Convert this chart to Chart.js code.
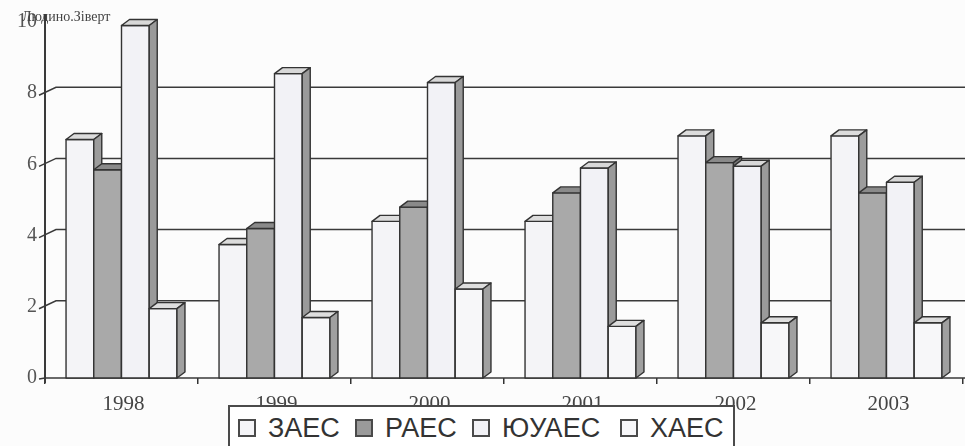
<!DOCTYPE html>
<html lang="uk">
<head>
    <meta charset="UTF-8">
    <title>Колективні дози АЕС України</title>
    <style>
        body, html {
            margin: 0;
            padding: 0;
            background-color: #fcfcfc;
        }
        .wrap {
            position: relative;
            width: 965px;
            height: 446px;
            overflow: hidden;
        }
        .legend {
            position: absolute;
            left: 228px;
            top: 405px;
            width: 503px;
            height: 60px;
            border: 2px solid #4a4a4a;
            background: #fff;
            font-family: "Liberation Sans", Arial, sans-serif;
            font-size: 27px;
            color: #333;
        }
        .item {
            position: absolute;
            top: 6px;
            display: flex;
            align-items: center;
            gap: 12px;
            line-height: 30px;
        }
        .swatch {
            width: 14px;
            height: 14px;
            border: 2px solid #4a4a4a;
        }
    </style>
</head>
<body>
<div class="wrap">
    <canvas id="doseChart" width="965" height="446"></canvas>
    <div class="legend" id="legend"></div>
</div>

<script src="https://cdn.jsdelivr.net/npm/chart.js"></script>
<script>
    const years = ['1998', '1999', '2000', '2001', '2002', '2003'];
    const stations = ['ЗАЕС', 'РАЕС', 'ЮУАЕС', 'ХАЕС'];
    const zaes = [6.7, 3.75, 4.4, 4.4, 6.8, 6.8];
    const raes = [5.85, 4.2, 4.8, 5.2, 6.05, 5.2];
    const yuaes = [9.9, 8.55, 8.3, 5.9, 5.95, 5.5];
    const khaes = [1.95, 1.7, 2.5, 1.45, 1.55, 1.55];
    const gridValues = [2, 4, 6, 8];
    const unitLabel = 'Людино.Зіверт';

    // front / top / side shades for each station
    const fronts = ['#f4f4f7', '#a9a9a9', '#f2f2f6', '#f7f7f9'];
    const tops = ['#dcdcdc', '#8a8a8a', '#d8d8d8', '#dedede'];
    const sides = ['#9c9c9c', '#7c7c7c', '#9a9a9a', '#a0a0a0'];
    const legendLeft = [8, 125, 242, 390];

    const DX = 8, DY = 6;
    const INK = '#333';

    // legend (sits over the x labels, like the printed one)
    const legend = document.getElementById('legend');
    stations.forEach((name, i) => {
        const item = document.createElement('div');
        item.className = 'item';
        item.style.left = legendLeft[i] + 'px';
        const sw = document.createElement('span');
        sw.className = 'swatch';
        sw.style.background = i === 1 ? '#9a9a9a' : fronts[i];
        const txt = document.createElement('span');
        txt.textContent = name;
        item.appendChild(sw);
        item.appendChild(txt);
        legend.appendChild(item);
    });

    const backWall = {
        id: 'backWall',
        beforeDatasetsDraw(chart) {
            const { ctx, chartArea, scales } = chart;
            const y = scales.y;
            ctx.save();
            ctx.font = '14px "Liberation Serif", serif';
            ctx.fillStyle = '#444';
            ctx.textBaseline = 'alphabetic';
            ctx.fillText(unitLabel, 22, 21);

            ctx.strokeStyle = '#3a3a3a';
            ctx.lineWidth = 1.5;
            gridValues.forEach(v => {
                const py = y.getPixelForValue(v);
                ctx.beginPath();
                ctx.moveTo(chartArea.left - 6, py + 2);
                ctx.lineTo(chartArea.left + DX + 3, py - DY);
                ctx.lineTo(chart.width, py - DY);
                ctx.stroke();
            });
            // zero tick
            const p0 = y.getPixelForValue(0);
            ctx.beginPath();
            ctx.moveTo(chartArea.left - 6, p0 + 1);
            ctx.lineTo(chartArea.left, p0);
            ctx.stroke();

            // axes
            ctx.lineWidth = 2;
            ctx.beginPath();
            ctx.moveTo(chartArea.left, chartArea.top - 8);
            ctx.lineTo(chartArea.left, chartArea.bottom + 5);
            ctx.stroke();
            ctx.lineWidth = 1.5;
            ctx.beginPath();
            ctx.moveTo(chartArea.left, chartArea.bottom);
            ctx.lineTo(chart.width, chartArea.bottom);
            ctx.stroke();
            ctx.restore();
        }
    };

    // redraw the bars as boxes, left to right inside each year
    const boxes = {
        id: 'boxes',
        afterDatasetsDraw(chart) {
            const ctx = chart.ctx;
            ctx.save();
            ctx.lineWidth = 1.4;
            ctx.strokeStyle = INK;
            ctx.lineJoin = 'round';
            years.forEach((_, i) => {
                stations.forEach((_, d) => {
                    const bar = chart.getDatasetMeta(d).data[i];
                    const l = bar.x - bar.width / 2;
                    const r = bar.x + bar.width / 2;
                    const t = bar.y;
                    const b = bar.base;

                    ctx.fillStyle = fronts[d];
                    ctx.fillRect(l, t, r - l, b - t);
                    ctx.strokeRect(l, t, r - l, b - t);

                    ctx.beginPath();
                    ctx.moveTo(l, t);
                    ctx.lineTo(l + DX, t - DY);
                    ctx.lineTo(r + DX, t - DY);
                    ctx.lineTo(r, t);
                    ctx.closePath();
                    ctx.fillStyle = tops[d];
                    ctx.fill();
                    ctx.stroke();

                    ctx.beginPath();
                    ctx.moveTo(r, t);
                    ctx.lineTo(r + DX, t - DY);
                    ctx.lineTo(r + DX, b - DY);
                    ctx.lineTo(r, b);
                    ctx.closePath();
                    ctx.fillStyle = sides[d];
                    ctx.fill();
                    ctx.stroke();
                });
            });
            ctx.restore();
        }
    };

    const series = [zaes, raes, yuaes, khaes];

    new Chart(document.getElementById('doseChart').getContext('2d'), {
        type: 'bar',
        data: {
            labels: years,
            datasets: stations.map((name, d) => ({
                label: name,
                data: series[d],
                backgroundColor: fronts[d],
                borderWidth: 0,
                categoryPercentage: 0.725,
                barPercentage: 1.0
            }))
        },
        options: {
            responsive: false,
            animation: false,
            layout: { padding: { top: 22, right: 2, left: 0, bottom: 0 } },
            plugins: {
                legend: { display: false },
                tooltip: { enabled: false }
            },
            scales: {
                x: {
                    afterFit: s => { s.height = 68; },
                    border: { display: false },
                    grid: {
                        display: true,
                        drawOnChartArea: false,
                        drawTicks: true,
                        tickLength: 6,
                        color: INK,
                        lineWidth: 1.5
                    },
                    ticks: {
                        color: '#444',
                        font: { family: '"Liberation Serif", serif', size: 21 },
                        padding: 8,
                        labelOffset: 2,
                        maxRotation: 0
                    }
                },
                y: {
                    min: 0,
                    max: 10,
                    afterFit: s => { s.width = 45; },
                    border: { display: false },
                    grid: { display: false, drawTicks: false },
                    ticks: {
                        stepSize: 2,
                        color: '#555',
                        font: { family: '"Liberation Serif", serif', size: 20 },
                        padding: 8
                    }
                }
            }
        },
        plugins: [backWall, boxes]
    });
</script>
</body>
</html>
